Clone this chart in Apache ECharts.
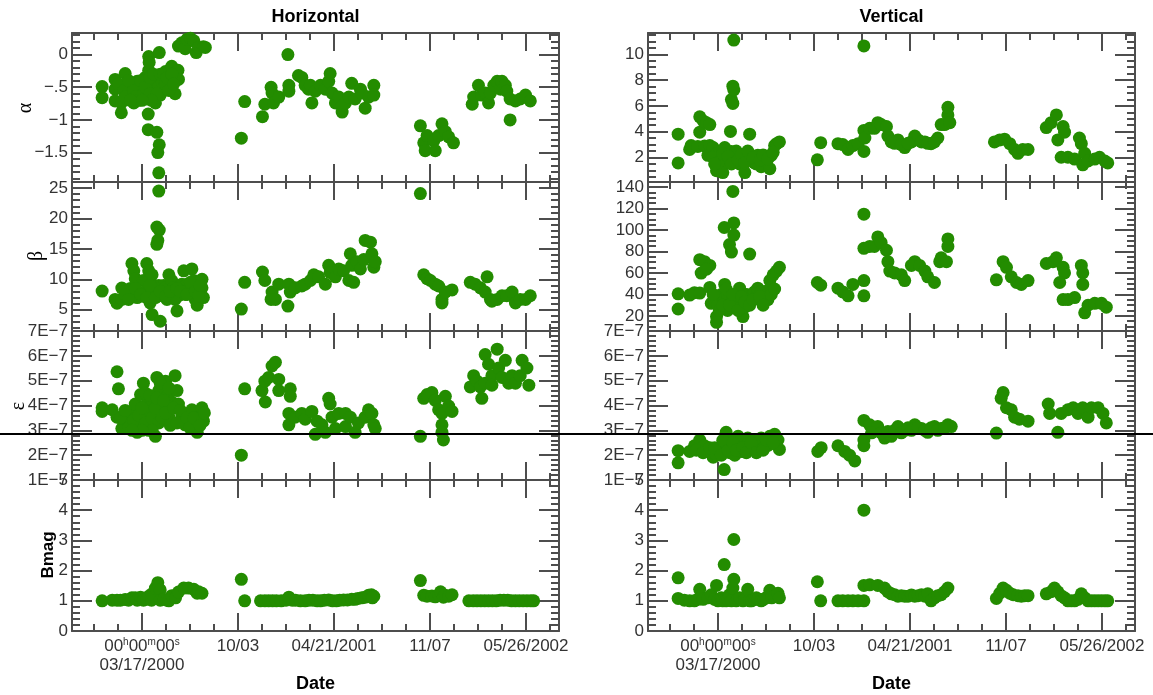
<!DOCTYPE html>
<html>
<head>
<meta charset="utf-8">
<title>Horizontal / Vertical</title>
<script src="https://cdn.jsdelivr.net/npm/echarts@6/dist/echarts.min.js"></script>
<style>
html, body { margin: 0; padding: 0; background: #fff; }
#chart { width: 1153px; height: 695px; }
</style>
</head>
<body>
<div id="chart"></div>
<script>
// x values are days from 03/17/2000 00h00m00s
const xTicks = [0, 200, 400, 600, 800];
const xTickLabels = ['03/17/2000', '10/03', '04/21/2001', '11/07', '05/26/2002'];

// Horizontal
const hAlpha = [
  [-83,-0.49],[-83,-0.66],[-56,-0.38],[-56,-0.53],[-56,-0.71],[-43,-0.74],[-43,-0.89],
  [-35,-0.29],[-31,-0.44],[-28,-0.6],[-24,-0.53],[-21,-0.62],[-17,-0.74],[-14,-0.5],
  [-10,-0.41],[-7,-0.53],[-3,-0.62],[0,-0.55],[3,-0.47],[7,-0.35],[10,-0.53],[10,-0.68],
  [14,-0.24],[14,-0.03],[15,-0.12],[20,-0.5],[21,-0.41],[24,-0.59],[28,-0.74],[28,-0.45],
  [31,-0.32],[35,-0.47],[36,0.03],[38,-0.62],[42,-0.41],[45,-0.5],[49,-0.26],[52,-0.53],
  [56,-0.38],[59,-0.24],[60,-0.45],[62,-0.18],[69,-0.29],[69,-0.6],[75,-0.24],[76,-0.38],
  [-49,-0.45],[-38,-0.55],[-35,-0.65],[-28,-0.4],[-17,-0.55],[-14,-0.65],[-7,-0.7],[-3,-0.4],
  [3,-0.6],[7,-0.5],[17,-0.6],[17,-0.35],[24,-0.3],[31,-0.6],[38,-0.3],[45,-0.3],[49,-0.45],
  [52,-0.35],[56,-0.55],[62,-0.3],[66,-0.45],[20,-0.7],[0,-0.7],[-24,-0.7],
  [13,-0.91],[13,-1.15],[31,-1.19],[36,-1.38],[33,-1.5],[35,-1.81],
  [76,0.13],[83,0.18],[90,0.09],[94,0.235],[101,0.25],[108,0.21],[113,0.03],[118,0.11],[128,0.12],[132,0.11],
  [214,-0.72],[207,-1.28],
  [251,-0.95],[256,-0.76],[269,-0.5],[271,-0.59],[274,-0.74],[285,-0.65],[304,0.0],[306,-0.47],
  [306,-0.56],[326,-0.32],[333,-0.35],[340,-0.47],[347,-0.53],[351,-0.47],[354,-0.74],[361,-0.56],
  [372,-0.47],[382,-0.53],[389,-0.41],[392,-0.29],[396,-0.59],[403,-0.74],[410,-0.65],[417,-0.79],
  [417,-0.88],[424,-0.74],[431,-0.65],[437,-0.44],[444,-0.68],[455,-0.53],[458,-0.59],[465,-0.82],
  [472,-0.65],[483,-0.47],[483,-0.62],
  [580,-1.09],[587,-1.35],[590,-1.47],[594,-1.24],[608,-1.32],[611,-1.47],[618,-1.24],[625,-1.06],
  [632,-1.18],[639,-1.26],[649,-1.35],
  [688,-0.76],[691,-0.65],[701,-0.47],[708,-0.62],[715,-0.59],[722,-0.74],[726,-0.59],[733,-0.47],
  [740,-0.41],[747,-0.53],[750,-0.41],[757,-0.47],[760,-0.56],[767,-0.68],[767,-1.0],[778,-0.71],
  [788,-0.68],[799,-0.62],[809,-0.71]
];
const hBeta = [
  [-83,8.06],[-56,6.69],[-52,6.06],[-42,8.56],[-42,6.69],[-31,7.31],[-24,8.5],[-21,12.6],[-17,11.4],
  [-14,10.1],[-10,7],[-7,7.9],[0,7.3],[3,9.8],[7,8],[10,12.6],[14,11.4],[21,10.75],[21,8.6],[17,6.1],
  [21,4.2],[24,7.9],[28,8.9],[31,18.6],[36,18.1],[33,16.4],[31,15.75],[38,3.1],[35,9],[42,7.3],
  [45,9],[49,8.6],[52,6.7],[56,10.75],[62,9.8],[66,8.6],[69,6.7],[73,4.8],[76,7.3],[83,9.2],
  [87,11.4],[90,7.5],[94,9.2],[101,7.9],[104,11.7],[108,9.8],[111,6.7],[115,5.75],[118,9.2],
  [125,8.6],[125,10],[128,7.0],[35,24.5],
  [-35,7.5],[-28,6.7],[-14,8.5],[-3,7.5],[10,7],[17,9],[28,7],[38,8],[49,7.2],[59,8],[73,8.5],
  [80,8],[94,7.5],[101,9.5],[111,8],[118,7.3],[121,9],
  [214,9.5],[207,5.1],
  [251,11.2],[256,9.8],[269,6.7],[271,7.9],[278,6.7],[285,9.2],[304,5.6],[306,9.2],[309,7.9],
  [319,8.6],[333,8.9],[340,9.2],[351,9.8],[358,10.75],[368,10.4],[382,9.2],[389,12.3],[392,11.1],
  [403,10.4],[410,11.7],[420,11.4],[431,9.8],[434,14.2],[437,12.3],[441,9.5],[448,12.9],[455,11.7],
  [462,13.25],[465,16.4],[476,16.1],[479,14.2],[483,12.0],[486,12.9],
  [580,24.1],[587,10.75],[594,10.1],[601,9.8],[611,9.2],[618,8.9],[625,6.7],[625,6.1],[632,7.9],[646,8.25],
  [684,9.5],[694,9.2],[705,8.6],[719,10.4],[715,7.9],[726,6.7],[729,6.4],[740,6.7],[750,7.3],
  [760,7.3],[771,7.9],[778,6.1],[788,6.7],[799,6.7],[809,7.3]
];
// emittance in units of 1E-7
const hEps = [
  [-83,3.91],[-83,3.76],[-52,5.36],[-49,4.67],[-62,3.83],[-52,3.53],[-42,3.07],[-31,3.37],[-21,3.68],
  [-14,4.06],[-10,2.92],[-3,4.44],[-3,3.22],[3,4.9],[10,4.06],[14,3.68],[14,3.0],[21,4.21],[24,3.22],
  [28,2.76],[31,5.13],[35,4.6],[42,3.91],[49,4.98],[52,4.37],[56,3.53],[62,4.14],[69,5.2],[73,4.6],
  [76,4.06],[83,3.53],[90,3.22],[97,3.68],[104,3.83],[111,3.07],[115,2.92],[118,3.53],[125,3.91],[128,3.37],
  [-45,3.5],[-35,3.8],[-28,3.1],[-17,3.4],[-7,3.6],[0,3.9],[7,3.3],[7,4.5],[17,4.4],[21,3.5],
  [28,3.9],[31,4.3],[35,3.3],[38,4.9],[42,3.5],[45,4.2],[49,3.7],[56,4.7],[59,3.2],[66,3.9],
  [73,3.3],[80,3.8],[94,3.5],[100,3.1],[108,3.5],[121,3.2],[130,3.7],[21,3.0],[0,3.0],[-21,3.0],
  [214,4.67],[207,2.0],
  [250,4.6],[256,4.98],[264,5.13],[271,5.59],[278,5.74],[285,5.05],[285,4.6],[257,4.14],[309,4.67],
  [309,4.37],[306,3.68],[306,3.22],[319,3.53],[333,3.68],[340,3.45],[354,3.76],[361,2.84],[365,3.37],
  [375,3.22],[382,2.92],[389,4.29],[392,4.06],[396,3.53],[403,3.07],[410,3.68],[424,3.68],[424,3.15],
  [434,3.53],[444,2.92],[451,3.3],[465,3.53],[472,3.83],[479,3.68],[483,3.22],[486,3.07],
  [580,2.76],[587,4.29],[594,4.44],[604,4.52],[611,4.21],[618,3.83],[625,3.68],[625,3.22],[625,2.92],
  [628,2.61],[632,4.37],[639,3.98],[646,3.76],
  [684,4.75],[691,5.2],[698,4.98],[705,4.75],[708,4.29],[715,6.05],[715,4.9],[722,5.66],[729,5.2],
  [729,4.82],[740,6.27],[743,5.51],[750,5.13],[757,5.82],[764,4.9],[771,5.2],[778,4.9],[788,5.2],
  [792,5.82],[802,5.51],[806,4.82]
];
const hBmag = [
  [-83,1.0],[-62,1.02],[-52,1.02],[-45,1.02],[-35,1.04],[-28,1.02],[-21,1.1],[-14,1.1],[-10,1.02],
  [-3,1.12],[3,1.02],[10,1.05],[14,1.15],[20,1.02],[21,1.23],[28,1.42],[33,1.6],[38,1.36],[38,1.02],
  [45,1.05],[52,1.02],[56,1.0],[62,1.17],[70,1.1],[76,1.29],[87,1.42],[97,1.42],[108,1.38],[115,1.25],
  [118,1.3],[125,1.25],
  [207,1.71],[214,1.0],
  [247,1.0],[256,1.0],[264,1.0],[272,1.0],[280,1.0],[290,1.0],[300,1.02],[306,1.12],[313,1.02],
  [320,1.02],[330,1.0],[340,1.0],[348,1.02],[356,1.02],[365,1.0],[372,1.0],[380,1.02],[389,1.03],
  [397,1.0],[405,1.0],[412,1.02],[420,1.03],[428,1.03],[437,1.05],[444,1.05],[450,1.08],[458,1.1],
  [465,1.12],[472,1.18],[478,1.2],[483,1.15],[480,1.1],
  [580,1.67],[587,1.18],[594,1.15],[604,1.16],[611,1.13],[618,1.2],[622,1.3],[628,1.12],[632,1.18],
  [639,1.15],[646,1.2],
  [681,1.0],[690,1.0],[698,1.0],[706,1.0],[714,1.0],[722,1.0],[730,1.0],[738,1.0],[746,1.02],
  [754,1.02],[762,1.02],[770,1.0],[778,1.0],[786,1.0],[794,1.0],[802,1.0],[810,1.0],[816,1.0]
];

// Vertical
const vAlpha = [
  [-83,3.81],[-83,1.58],[-59,2.62],[-56,2.92],[-42,2.86],[-38,5.15],[-38,3.96],[-31,4.85],[-28,2.9],
  [-24,4.7],[-17,4.55],[-17,2.92],[-21,2.17],[-10,2.77],[-3,0.98],[-3,2.3],[0,2.17],[7,1.5],
  [10,0.83],[14,2.77],[17,1.88],[21,1.6],[26,4.02],[28,6.49],[31,6.19],[31,7.53],[33,7.23],[33,11.1],
  [28,2.47],[35,1.88],[38,2.5],[42,2.17],[45,1.5],[52,1.43],[56,0.83],[62,1.88],[66,3.81],[69,2.17],
  [76,1.58],[80,1.5],[83,2.17],[90,1.28],[97,1.88],[100,1.6],[108,1.13],[111,2.17],[118,2.92],
  [122,3.07],[128,3.21],
  [-10,2.0],[0,1.6],[10,2.3],[21,2.1],[28,1.5],[42,1.8],[49,2.2],[56,1.6],[62,2.5],[73,2.0],
  [87,1.8],[94,2.2],[104,1.9],[115,2.4],[-7,1.5],
  [214,3.15],[207,1.82],
  [250,3.07],[260,3.0],[271,2.62],[281,2.92],[292,3.07],[304,4.1],[306,3.51],[304,2.47],[304,10.65],
  [316,4.26],[326,4.26],[333,4.7],[340,4.55],[351,4.4],[354,3.66],[361,3.21],[375,3.36],[389,2.77],
  [403,3.21],[410,3.66],[417,3.36],[431,3.21],[444,3.07],[458,3.51],[465,4.55],[472,4.55],[479,5.3],
  [479,5.89],[483,4.7],[368,3.1],[382,3.0],[396,3.1],[424,3.2],[437,3.1],[451,3.2],
  [576,3.21],[587,3.36],[597,3.42],[608,3.07],[618,2.62],[625,2.32],[635,2.62],[646,2.62],
  [684,4.32],[694,4.7],[705,5.3],[708,3.36],[719,4.4],[722,3.96],[715,2.02],[729,2.02],[743,1.88],
  [753,3.51],[757,3.07],[764,2.32],[760,1.43],[771,1.73],[785,1.88],[795,2.02],[806,1.73],[812,1.58]
];
const vBeta = [
  [-83,40.5],[-83,26.4],[-59,39.4],[-49,41.6],[-38,41.2],[-38,72.3],[-35,59.9],[-28,70.5],[-17,67],
  [-24,63.5],[-17,46.5],[-14,31.7],[-7,35.2],[-3,19.3],[-3,14],[0,30],[7,40],[13,102.3],[14,49.3],
  [14,37],[20,25],[21,38.7],[24,86.4],[28,79.4],[28,32],[33,106.6],[33,95.3],[31,135.9],[35,28.1],
  [38,40],[42,35.2],[45,45.8],[49,28.1],[52,19.3],[56,28.1],[60,40],[62,35.2],[66,77.6],[69,38.7],
  [76,42.3],[80,38],[83,45.8],[90,42.3],[97,35.2],[100,43],[104,35.2],[108,52.9],[115,58.2],
  [122,61.7],[128,65.2],
  [-10,40],[3,25],[10,30],[17,45],[24,30],[31,40],[42,25],[49,38],[56,33],[66,30],[73,35],
  [87,38],[94,30],[111,40],[118,45],
  [207,51.1],[214,48.6],
  [250,45.8],[260,42.3],[271,38.7],[281,49.3],[304,52.9],[304,38.7],[304,114.7],[304,82.9],
  [316,84.7],[326,84.7],[333,93.5],[340,88.2],[351,81.1],[354,70.5],[358,61.7],[368,60],[382,58.2],
  [389,52.9],[403,67],[410,70.5],[420,67],[431,61.7],[437,56.4],[451,51.1],[462,70.5],[465,74.1],
  [476,70.5],[479,84.7],[479,91.7],
  [580,53.6],[594,70.5],[601,65.2],[611,56.4],[622,51.1],[632,49.3],[646,52.9],
  [684,68.8],[698,70.5],[705,74.1],[719,65.2],[722,60],[712,51.1],[719,35.2],[729,35.2],[743,37],
  [757,67],[760,60],[760,49.3],[764,22.8],[771,29.9],[785,31.7],[799,31.7],[809,28.1]
];
// emittance in units of 1E-7
const vEps = [
  [-83,2.18],[-83,1.69],[-59,2.15],[-49,2.38],[-38,2.61],[-28,2.38],[-21,2.15],[-10,1.92],[-3,2.0],
  [3,2.3],[13,1.42],[17,2.92],[21,2.61],[25,2.1],[28,2.31],[35,2.0],[42,2.76],[45,2.3],[49,2.15],
  [56,2.46],[62,2.69],[65,2.3],[73,2.23],[76,2.61],[85,2.3],[90,2.69],[97,2.31],[105,2.4],[108,2.76],
  [118,2.84],[125,2.61],[128,2.23],
  [-45,2.2],[-31,2.1],[-17,2.3],[-7,2.3],[7,2.0],[10,2.6],[21,2.2],[31,2.5],[38,2.2],[52,2.3],
  [59,2.1],[69,2.5],[80,2.1],[94,2.2],[101,2.6],[115,2.5],
  [208,2.15],[215,2.3],
  [250,2.38],[264,2.15],[274,2.0],[285,1.77],[304,3.4],[304,2.61],[304,2.38],[316,3.22],[333,3.15],
  [347,2.69],[361,2.76],[375,3.15],[389,3.0],[410,3.22],[424,3.07],[437,2.92],[451,3.15],[465,3.07],
  [479,3.22],[486,3.15],
  [320,2.9],[340,2.9],[354,2.95],[368,3.0],[382,2.9],[396,3.1],[403,3.0],[417,3.1],[431,3.0],
  [444,3.1],[458,3.0],[472,3.1],
  [580,2.89],[594,4.52],[590,4.29],[601,3.91],[611,3.83],[618,3.53],[628,3.45],[646,3.37],
  [688,4.06],[691,3.68],[708,2.92],[715,3.68],[729,3.83],[740,3.91],[750,3.68],[760,3.91],[771,3.53],
  [778,3.91],[792,3.91],[802,3.68],[809,3.3]
];
const vBmag = [
  [-83,1.76],[-83,1.08],[-70,1.02],[-59,1.0],[-49,1.0],[-42,1.05],[-38,1.38],[-31,1.05],[-21,1.1],
  [-14,1.2],[-7,1.05],[-3,1.51],[0,1.0],[7,1.1],[10,1.0],[13,2.2],[17,1.0],[20,1.05],[24,1.2],
  [28,1.0],[33,3.03],[33,1.71],[31,1.42],[38,1.0],[42,1.05],[45,1.1],[52,1.0],[56,1.05],[62,1.38],
  [66,1.0],[70,1.0],[76,1.05],[80,1.1],[84,1.05],[90,1.0],[95,1.05],[100,1.1],[108,1.35],[112,1.1],
  [118,1.15],[125,1.25],[128,1.1],
  [207,1.63],[214,1.0],
  [250,1.0],[260,1.0],[271,1.0],[281,1.0],[292,1.0],[304,1.0],[304,1.51],[304,4.0],[316,1.53],
  [333,1.51],[347,1.42],[354,1.3],[361,1.23],[368,1.2],[375,1.15],[382,1.17],[389,1.15],[396,1.15],
  [403,1.19],[410,1.15],[417,1.17],[424,1.2],[431,1.15],[437,1.23],[444,1.0],[451,1.1],[458,1.17],
  [465,1.2],[472,1.3],[479,1.42],
  [580,1.08],[587,1.25],[594,1.42],[601,1.35],[608,1.25],[615,1.2],[625,1.17],[632,1.15],[639,1.17],[646,1.17],
  [684,1.23],[694,1.3],[701,1.42],[708,1.3],[715,1.17],[722,1.1],[729,1.0],[736,1.0],[743,1.0],
  [750,1.05],[757,1.23],[764,1.1],[771,1.0],[778,1.0],[785,1.0],[792,1.0],[799,1.0],[806,1.0],[812,1.0]
];

// y tick values / labels
const hAlphaTicks = [0, -0.5, -1, -1.5];
const hAlphaLabels = ['0', '\u2212.5', '\u22121', '\u22121.5'];
const hBetaTicks = [5, 10, 15, 20, 25];
const vAlphaTicks = [2, 4, 6, 8, 10];
const vBetaTicks = [20, 40, 60, 80, 100, 120, 140];
const epsTicks = [1, 2, 3, 4, 5, 6, 7];
const epsLabels = ['1E\u22127', '2E\u22127', '3E\u22127', '4E\u22127', '5E\u22127', '6E\u22127', '7E\u22127'];
const bmagTicks = [0, 1, 2, 3, 4, 5];

const X_MIN = -145.8, X_MAX = 868.8;
const GREEN = '#238c00';
const AX = '#4d4d4d';
const FONT = 'Liberation Sans';

function minorTicks(min, max, step, majors) {
  const out = [];
  for (let k = Math.ceil(min / step - 1e-9); k * step <= max + 1e-9; k++) {
    const v = +(k * step).toFixed(6);
    if (!majors.some(m => Math.abs(m - v) < step / 10)) out.push(v);
  }
  return out;
}

const panels = [
  { col: 0, row: 0, data: hAlpha, min: -1.95, max: 0.33, ticks: hAlphaTicks, labels: hAlphaLabels, step: 0.1 },
  { col: 0, row: 1, data: hBeta, min: 1.5, max: 26.0, ticks: hBetaTicks, step: 1 },
  { col: 0, row: 2, data: hEps, min: 1, max: 7, ticks: epsTicks, labels: epsLabels, step: 0.2 },
  { col: 0, row: 3, data: hBmag, min: 0, max: 5, ticks: bmagTicks, step: 0.2 },
  { col: 1, row: 0, data: vAlpha, min: 0.1, max: 11.65, ticks: vAlphaTicks, step: 0.5 },
  { col: 1, row: 1, data: vBeta, min: 5.9, max: 144.7, ticks: vBetaTicks, step: 5 },
  { col: 1, row: 2, data: vEps, min: 1, max: 7, ticks: epsTicks, labels: epsLabels, step: 0.2 },
  { col: 1, row: 3, data: vBmag, min: 0, max: 5, ticks: bmagTicks, step: 0.2 }
];

const colLeft = [72, 648];
const rowTop = [33, 182, 331, 480];
const rowH = [149, 149, 149, 151];

const xMinor = minorTicks(X_MIN, X_MAX, 50, xTicks);

const grid = [], xAxis = [], yAxis = [], series = [];

panels.forEach((p, g) => {
  grid.push({ left: colLeft[p.col], top: rowTop[p.row], width: 487, height: rowH[p.row] });
  const bottomRow = p.row === 3;
  const tickLine = { color: AX, width: 2 };
  const labelStyle = { fontFamily: FONT, fontSize: 17, color: '#333' };

  const xBase = {
    type: 'value', gridIndex: g, min: X_MIN, max: X_MAX,
    splitLine: { show: false }
  };
  xAxis.push(Object.assign({}, xBase, {
    position: 'bottom',
    axisLine: { show: true, onZero: false, lineStyle: { color: AX, width: 2 } },
    axisTick: { show: true, inside: true, length: 18, customValues: xTicks, lineStyle: tickLine },
    axisLabel: bottomRow ? Object.assign({}, labelStyle, {
      show: true, margin: 6, customValues: xTicks,
      formatter: v => {
        const i = xTicks.indexOf(v);
        if (i === 0) return '{n|00}{s|h}{n|00}{s|m}{n|00}{s|s}\n{n|' + xTickLabels[0] + '}';
        return '{n|' + xTickLabels[i] + '}';
      },
      rich: {
        n: { fontFamily: FONT, fontSize: 17, color: '#333', lineHeight: 19 },
        s: { fontFamily: FONT, fontSize: 10, color: '#333', lineHeight: 10, verticalAlign: 'top' }
      }
    }) : { show: false }
  }));
  xAxis.push(Object.assign({}, xBase, {
    position: 'bottom',
    axisLine: { show: false, onZero: false },
    axisTick: { show: true, inside: true, length: 7, customValues: xMinor, lineStyle: tickLine },
    axisLabel: { show: false }
  }));
  xAxis.push(Object.assign({}, xBase, {
    position: 'top',
    axisLine: { show: true, onZero: false, lineStyle: { color: AX, width: 2 } },
    axisTick: { show: true, inside: true, length: 18, customValues: xTicks, lineStyle: tickLine },
    axisLabel: { show: false }
  }));
  xAxis.push(Object.assign({}, xBase, {
    position: 'top',
    axisLine: { show: false, onZero: false },
    axisTick: { show: true, inside: true, length: 7, customValues: xMinor, lineStyle: tickLine },
    axisLabel: { show: false }
  }));

  const yMinor = minorTicks(p.min, p.max, p.step, p.ticks);
  const yBase = { type: 'value', gridIndex: g, min: p.min, max: p.max, splitLine: { show: false } };
  yAxis.push(Object.assign({}, yBase, {
    position: 'left',
    axisLine: { show: true, onZero: false, lineStyle: { color: AX, width: 2 } },
    axisTick: { show: true, inside: true, length: 20, customValues: p.ticks, lineStyle: tickLine },
    axisLabel: Object.assign({}, labelStyle, {
      show: true, margin: 4, customValues: p.ticks,
      formatter: v => {
        const i = p.ticks.indexOf(v);
        return p.labels ? p.labels[i] : String(v);
      }
    })
  }));
  yAxis.push(Object.assign({}, yBase, {
    position: 'left',
    axisLine: { show: false, onZero: false },
    axisTick: { show: true, inside: true, length: 8, customValues: yMinor, lineStyle: tickLine },
    axisLabel: { show: false }
  }));
  yAxis.push(Object.assign({}, yBase, {
    position: 'right',
    axisLine: { show: true, onZero: false, lineStyle: { color: AX, width: 2 } },
    axisTick: { show: true, inside: true, length: 20, customValues: p.ticks, lineStyle: tickLine },
    axisLabel: { show: false }
  }));
  yAxis.push(Object.assign({}, yBase, {
    position: 'right',
    axisLine: { show: false, onZero: false },
    axisTick: { show: true, inside: true, length: 8, customValues: yMinor, lineStyle: tickLine },
    axisLabel: { show: false }
  }));

  series.push({
    type: 'scatter', xAxisIndex: 4 * g, yAxisIndex: 4 * g,
    data: p.data, symbol: 'circle', symbolSize: 13,
    itemStyle: { color: GREEN, opacity: 1 }, silent: true
  });
});

function txt(x, y, text, opts) {
  return {
    type: 'text', x: x, y: y, z: 50,
    style: Object.assign({
      text: text, fontFamily: FONT, fontSize: 18, fill: '#000',
      align: 'center', verticalAlign: 'middle'
    }, opts || {})
  };
}

const graphic = [
  txt(315.5, 17, 'Horizontal', { fontWeight: 'bold' }),
  txt(891.5, 17, 'Vertical', { fontWeight: 'bold' }),
  txt(315.5, 684, 'Date', { fontWeight: 'bold' }),
  txt(891.5, 684, 'Date', { fontWeight: 'bold' }),
  Object.assign(txt(26, 108, '\u03b1', { fontFamily: 'Liberation Serif', fontSize: 20 }), { rotation: Math.PI / 2 }),
  Object.assign(txt(37, 256, '\u03b2', { fontFamily: 'Liberation Serif', fontSize: 20 }), { rotation: Math.PI / 2 }),
  Object.assign(txt(19, 406, '\u03b5', { fontFamily: 'Liberation Serif', fontSize: 20 }), { rotation: Math.PI / 2 }),
  Object.assign(txt(48, 555, 'Bmag', { fontWeight: 'bold', fontSize: 17 }), { rotation: Math.PI / 2 }),
  {
    type: 'line', z: 100,
    shape: { x1: 0, y1: 434, x2: 1153, y2: 434 },
    style: { stroke: '#000', lineWidth: 2 }
  }
];

const chart = echarts.init(document.getElementById('chart'), null, { renderer: 'canvas' });
chart.setOption({
  animation: false,
  backgroundColor: '#fff',
  grid: grid,
  xAxis: xAxis,
  yAxis: yAxis,
  series: series,
  graphic: graphic
});
</script>
</body>
</html>
